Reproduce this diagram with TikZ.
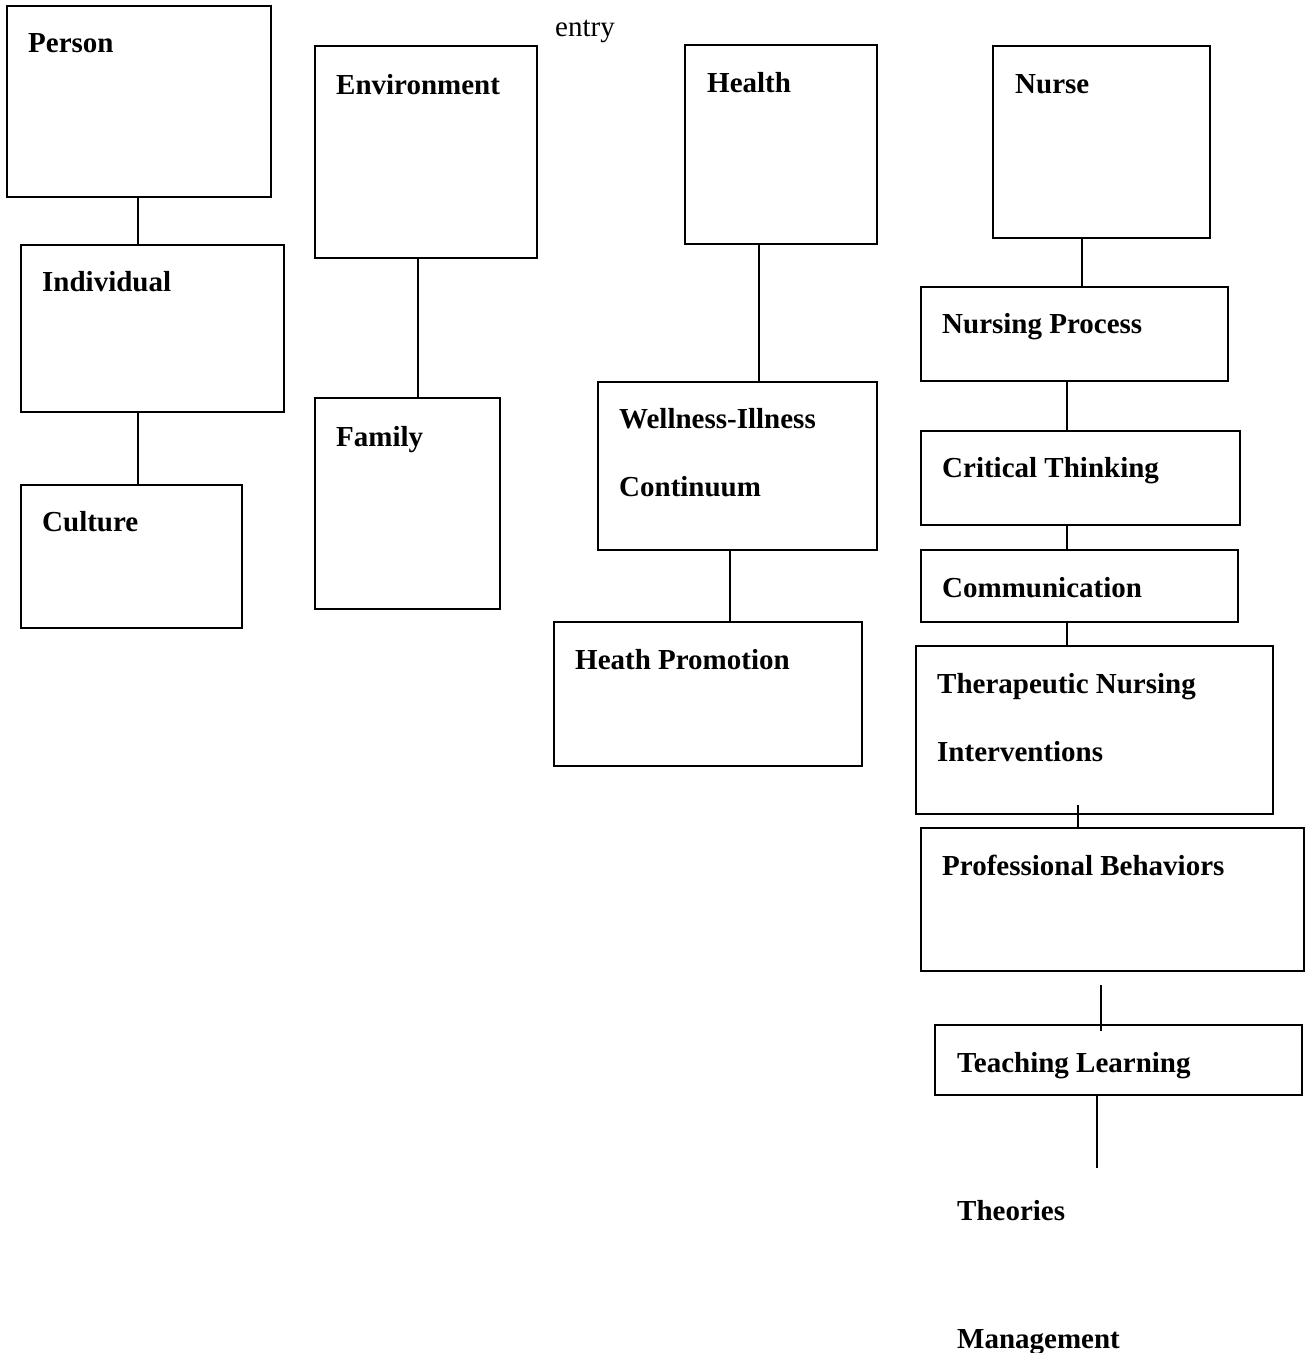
\documentclass[tikz,border=0pt]{standalone}
\usepackage{fontspec}
\setmainfont{Liberation Serif}
\usetikzlibrary{positioning}

\begin{document}
\begin{tikzpicture}[x=1pt, y=-1pt,
    box/.style={draw, line width=1.6pt, inner sep=0pt},
    lbl/.style={anchor=base west, inner sep=0pt, font=\fontsize{29}{35}\selectfont\bfseries},
    link/.style={line width=1.6pt}]
  \useasboundingbox (0,0) rectangle (1307,1353);
  % Person column
  \node(person)[box, minimum width=264, minimum height=191] at (139,101.5) {};
  \node(individual)[box, minimum width=263, minimum height=167] at (152.5,328.5) {};
  \node(culture)[box, minimum width=221, minimum height=143] at (131.5,556.5) {};
  \node[lbl] (personlbl) at (28,52) {Person};
  \node[lbl] (individuallbl) at (42,291) {Individual};
  \node[lbl] (culturelbl) at (42,531) {Culture};
  % Environment column
  \node(environment)[box, minimum width=222, minimum height=212] at (426,152) {};
  \node(family)[box, minimum width=185, minimum height=211] at (407.5,503.5) {};
  \node[lbl] (environmentlbl) at (336,94) {Environment};
  \node[lbl] (familylbl) at (336,446) {Family};
  \node[anchor=base west, inner sep=0pt, font=\fontsize{29}{35}\selectfont] (entry) at (555,36) {entry};
  % Health column
  \node(health)[box, minimum width=192, minimum height=199] at (781,144.5) {};
  \node(wellness)[box, minimum width=279, minimum height=168] at (737.5,466) {};
  \node(promotion)[box, minimum width=308, minimum height=144] at (708,694) {};
  \node[lbl] (healthlbl) at (707,92) {Health};
  \node[lbl] (wellnesslbl) at (619,428) {Wellness-Illness};
  \node[lbl] (continuumlbl) at (619,496) {Continuum};
  \node[lbl] (promotionlbl) at (575,669) {Heath Promotion};
  % Nurse column
  \node(nurse)[box, minimum width=217, minimum height=192] at (1101.5,142) {};
  \node(process)[box, minimum width=307, minimum height=94] at (1074.5,334) {};
  \node(thinking)[box, minimum width=319, minimum height=94] at (1080.5,478) {};
  \node(communication)[box, minimum width=317, minimum height=72] at (1079.5,586) {};
  \node(therapeutic)[box, minimum width=357, minimum height=168] at (1094.5,730) {};
  \node(behaviors)[box, minimum width=383, minimum height=143] at (1112.5,899.5) {};
  \node(teaching)[box, minimum width=367, minimum height=70] at (1118.5,1060) {};
  \node[lbl] (nurselbl) at (1015,93) {Nurse};
  \node[lbl] (processlbl) at (942,333) {Nursing Process};
  \node[lbl] (thinkinglbl) at (942,477) {Critical Thinking};
  \node[lbl] (communicationlbl) at (942,597) {Communication};
  \node[lbl] (therapeuticlbl) at (937,693) {Therapeutic Nursing};
  \node[lbl] (interventionslbl) at (937,761) {Interventions};
  \node[lbl] (behaviorslbl) at (942,875) {Professional Behaviors};
  \node[lbl] (teachinglbl) at (957,1072) {Teaching Learning};
  \node[lbl] (theories) at (957,1220) {Theories};
  \node[lbl] (management) at (957,1348) {Management};
  % Free line ends
  \coordinate (therstub) at (1078,805);
  \coordinate (behavgap) at (1101,985);
  \coordinate (teachstub) at (1101,1031);
  \coordinate (theorystub) at (1097,1168);
  % Links
  \draw[link] (138,0 |- person.south) -- (138,0 |- individual.north);
  \draw[link] (138,0 |- individual.south) -- (138,0 |- culture.north);
  \draw[link] (418,0 |- environment.south) -- (418,0 |- family.north);
  \draw[link] (759,0 |- health.south) -- (759,0 |- wellness.north);
  \draw[link] (730,0 |- wellness.south) -- (730,0 |- promotion.north);
  \draw[link] (1082,0 |- nurse.south) -- (1082,0 |- process.north);
  \draw[link] (1067,0 |- process.south) -- (1067,0 |- thinking.north);
  \draw[link] (1067,0 |- thinking.south) -- (1067,0 |- communication.north);
  \draw[link] (1067,0 |- communication.south) -- (1067,0 |- therapeutic.north);
  \draw[link] (therstub) -- (1078,0 |- behaviors.north);
  \draw[link] (behavgap) -- (teachstub);
  \draw[link] (1097,0 |- teaching.south) -- (theorystub);
\end{tikzpicture}
\end{document}
